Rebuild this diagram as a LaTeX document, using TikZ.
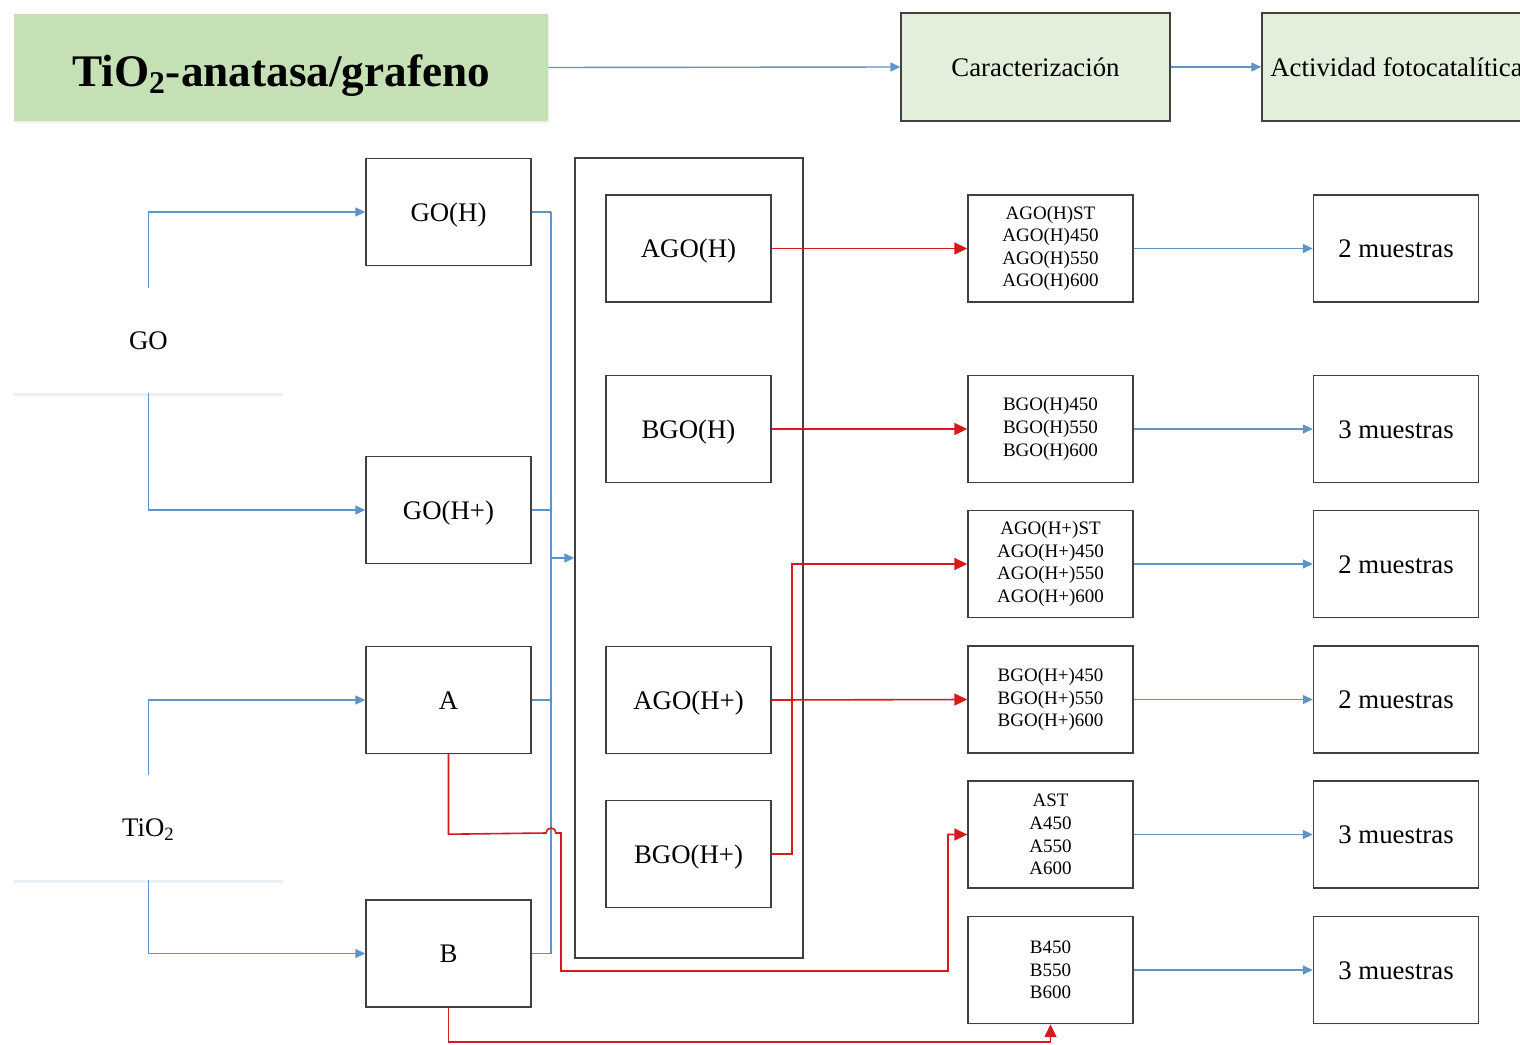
\documentclass[tikz,border=0pt]{standalone}
\usepackage{fontspec}
\setmainfont{Liberation Serif}
\usetikzlibrary{arrows.meta,shadows}
\definecolor{bl}{RGB}{95,148,200}
\definecolor{rd}{RGB}{215,25,30}
\definecolor{bx}{RGB}{64,64,64}
\definecolor{tg}{RGB}{197,224,180}
\definecolor{lg}{RGB}{226,239,218}
\begin{document}
\begin{tikzpicture}[x=0.5pt,y=-0.5pt,
  box/.style={draw=bx,line width=0.7pt,fill=white,minimum width=82.5pt,minimum height=53.5pt,inner sep=0pt,
    text height=9pt,text depth=0pt,
    font=\fontsize{13.4}{15}\selectfont,drop shadow={shadow xshift=0.3pt,shadow yshift=-0.7pt,opacity=0.08}},
  sbox/.style={box,align=center,text height=,text depth=,font=\fontsize{9.5}{11.3}\selectfont},
  topbox/.style={draw=bx,line width=0.7pt,fill=lg,minimum width=134.5pt,minimum height=54pt,inner sep=0pt,
    text height=9pt,text depth=0pt,
    font=\fontsize{13.4}{15}\selectfont,drop shadow={shadow xshift=0.3pt,shadow yshift=-0.7pt,opacity=0.08}},
  srcbox/.style={fill=white,minimum width=134.5pt,minimum height=52.5pt,inner sep=0pt,
    text height=9pt,text depth=0pt,
    font=\fontsize{13.4}{15}\selectfont,drop shadow={shadow xshift=0.2pt,shadow yshift=-1.3pt,opacity=0.14,fill=bl}},
  bline/.style={draw=bl,line width=0.7pt,-{Triangle[length=5pt,width=4.5pt]}},
  bthin/.style={draw=bl,line width=0.7pt},
  rline/.style={draw=rd,line width=0.8pt,-{Triangle[length=6.5pt,width=6pt]}},
]
\useasboundingbox (0,0) rectangle (1520,1044);
\clip (0,0) rectangle (1520,1044);
\fill[white] (0,0) rectangle (1520,1044);

% top row
\node[fill=tg,minimum width=267pt,minimum height=53.5pt,inner sep=0pt,text height=19pt,text depth=0pt,
  drop shadow={shadow xshift=0.3pt,shadow yshift=-1pt,opacity=0.12},
  font=\fontsize{22.6}{26}\selectfont\bfseries] (title) at (281,67.5) {TiO\textsubscript{2}-anatasa/grafeno};
\node[topbox] (car) at (1035.5,67) {Caracterización};
\node[topbox] (act) at (1396.5,67) {Actividad fotocatalítica};

% sources
\node[srcbox] (go) at (148.5,340.5) {GO};
\node[srcbox] (tio) at (148.5,827.5) {TiO\textsubscript{2}};

% column 1
\node[box] (goh) at (448.5,212) {GO(H)};
\node[box] (gohp) at (448.5,510) {GO(H+)};
\node[box] (a) at (448.5,700) {A};
\node[box] (b) at (448.5,953.5) {B};

% container
\node[draw=bx,line width=0.7pt,minimum width=114pt,minimum height=400pt,inner sep=0pt] (cont) at (689,558) {};
\node[box] (agoh) at (688.5,248.5) {AGO(H)};
\node[box] (bgoh) at (688.5,429) {BGO(H)};
\node[box] (agohp) at (688.5,700) {AGO(H+)};
\node[box] (bgohp) at (688.5,854) {BGO(H+)};

% results
\node[sbox] (r1) at (1050.5,248.5) {AGO(H)ST\\AGO(H)450\\AGO(H)550\\AGO(H)600};
\node[sbox] (r2) at (1050.5,429) {BGO(H)450\\BGO(H)550\\BGO(H)600};
\node[sbox] (r3) at (1050.5,564) {AGO(H+)ST\\AGO(H+)450\\AGO(H+)550\\AGO(H+)600};
\node[sbox] (r4) at (1050.5,699.5) {BGO(H+)450\\BGO(H+)550\\BGO(H+)600};
\node[sbox] (r5) at (1050.5,834.5) {AST\\A450\\A550\\A600};
\node[sbox] (r6) at (1050.5,970) {B450\\B550\\B600};

\node[box] (m1) at (1396,248.5) {2 muestras};
\node[box] (m2) at (1396,429) {3 muestras};
\node[box] (m3) at (1396,564) {2 muestras};
\node[box] (m4) at (1396,699.5) {2 muestras};
\node[box] (m5) at (1396,834.5) {3 muestras};
\node[box] (m6) at (1396,970) {3 muestras};

% top arrows
\draw[bline] (title.east) -- (car.west);
\draw[bline] (car.east) -- (act.west);

% sources to column 1
\draw[bline] (go.north) |- (goh.west);
\draw[bline] (go.south) |- (gohp.west);
\draw[bline] (tio.north) |- (a.west);
\draw[bline] (tio.south) |- (b.west);

% bus
\coordinate (bus) at (551,558);
\draw[bthin] (goh.east) -- (goh.east -| bus);
\draw[bthin] (gohp.east) -- (gohp.east -| bus);
\draw[bthin] (a.east) -- (a.east -| bus);
\draw[bthin] (b.east) -- (b.east -| bus);
\draw[bthin] (goh.east -| bus) -- (b.east -| bus);
\draw[bline] (bus) -- (bus -| cont.west);

% red connectors
\draw[rline] (agoh.east) -- (r1.west);
\draw[rline] (bgoh.east) -- (r2.west);
\draw[rline] (agohp.east) -- (r4.west);
\draw[rline] (bgohp.east) -- ++(20,0) |- (r3.west);
\draw[rline] (a.south) -- ++(0,80) -- (546,833) arc[start angle=180,end angle=360,radius=5] -- (561,833) -- (561,971) -- (948,971) |- (r5.west);
\draw[rline] (b.south) -- ++(0,34) -| (r6.south);

% results to samples
\foreach \i in {1,...,6} {\draw[bline] (r\i.east) -- (m\i.west);}
\end{tikzpicture}
\end{document}
